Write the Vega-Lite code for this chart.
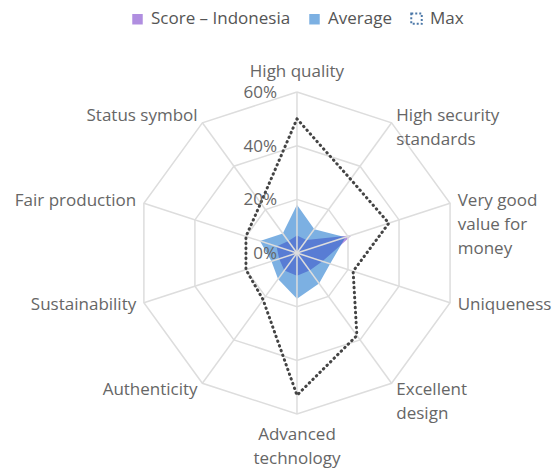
{
  "$schema": "https://vega.github.io/schema/vega-lite/v6.json",
  "width": 558,
  "height": 472,
  "autosize": {"type": "none"},
  "padding": 0,
  "background": "white",
  "config": {"view": {"stroke": null}, "font": "Open Sans"},
  "datasets": {
    "axes": [
      {"idx": 0, "label": "High quality"},
      {"idx": 1, "label": "High security\nstandards"},
      {"idx": 2, "label": "Very good\nvalue for\nmoney"},
      {"idx": 3, "label": "Uniqueness"},
      {"idx": 4, "label": "Excellent\ndesign"},
      {"idx": 5, "label": "Advanced\ntechnology"},
      {"idx": 6, "label": "Authenticity"},
      {"idx": 7, "label": "Sustainability"},
      {"idx": 8, "label": "Fair production"},
      {"idx": 9, "label": "Status symbol"}
    ],
    "grid": [
      {"idx": 0, "levels": [20, 40, 60]},
      {"idx": 1, "levels": [20, 40, 60]},
      {"idx": 2, "levels": [20, 40, 60]},
      {"idx": 3, "levels": [20, 40, 60]},
      {"idx": 4, "levels": [20, 40, 60]},
      {"idx": 5, "levels": [20, 40, 60]},
      {"idx": 6, "levels": [20, 40, 60]},
      {"idx": 7, "levels": [20, 40, 60]},
      {"idx": 8, "levels": [20, 40, 60]},
      {"idx": 9, "levels": [20, 40, 60]},
      {"idx": 10, "levels": [20, 40, 60]}
    ],
    "ticks": [{"level": 0}, {"level": 20}, {"level": 40}, {"level": 60}],
    "series": [
      {"series": "Score – Indonesia", "idx": 0, "value": 6.5},
      {"series": "Score – Indonesia", "idx": 1, "value": 6},
      {"series": "Score – Indonesia", "idx": 2, "value": 21.5},
      {"series": "Score – Indonesia", "idx": 3, "value": 10},
      {"series": "Score – Indonesia", "idx": 4, "value": 8},
      {"series": "Score – Indonesia", "idx": 5, "value": 8.5},
      {"series": "Score – Indonesia", "idx": 6, "value": 8},
      {"series": "Score – Indonesia", "idx": 7, "value": 7},
      {"series": "Score – Indonesia", "idx": 8, "value": 8},
      {"series": "Score – Indonesia", "idx": 9, "value": 5.5},
      {"series": "Score – Indonesia", "idx": 10, "value": 6.5},
      {"series": "Average", "idx": 0, "value": 18},
      {"series": "Average", "idx": 1, "value": 11},
      {"series": "Average", "idx": 2, "value": 19},
      {"series": "Average", "idx": 3, "value": 13},
      {"series": "Average", "idx": 4, "value": 14},
      {"series": "Average", "idx": 5, "value": 17},
      {"series": "Average", "idx": 6, "value": 12},
      {"series": "Average", "idx": 7, "value": 10},
      {"series": "Average", "idx": 8, "value": 14.5},
      {"series": "Average", "idx": 9, "value": 9},
      {"series": "Average", "idx": 10, "value": 18},
      {"series": "Max", "idx": 0, "value": 50},
      {"series": "Max", "idx": 1, "value": 34},
      {"series": "Max", "idx": 2, "value": 36},
      {"series": "Max", "idx": 3, "value": 22},
      {"series": "Max", "idx": 4, "value": 38},
      {"series": "Max", "idx": 5, "value": 53},
      {"series": "Max", "idx": 6, "value": 21.5},
      {"series": "Max", "idx": 7, "value": 20},
      {"series": "Max", "idx": 8, "value": 20},
      {"series": "Max", "idx": 9, "value": 23},
      {"series": "Max", "idx": 10, "value": 50}
    ]
  },
  "layer": [
    {
      "data": {"name": "series"},
      "transform": [
        {"filter": "datum.series === 'Score – Indonesia'"},
        {"calculate": "datum.idx * PI / 5", "as": "ang"},
        {"calculate": "datum.value * sin(datum.ang)", "as": "px"},
        {"calculate": "datum.value * cos(datum.ang)", "as": "py"}
      ],
      "mark": {"type": "line", "strokeWidth": 0},
      "encoding": {
        "x": {"field": "px", "type": "quantitative", "scale": {"domain": [-110.7, 97.3], "nice": false, "zero": false}, "axis": null},
        "y": {"field": "py", "type": "quantitative", "scale": {"domain": [-81.6, 94.3], "nice": false, "zero": false}, "axis": null},
        "order": {"field": "idx", "type": "quantitative"},
        "fill": {
          "field": "series",
          "type": "nominal",
          "scale": {"domain": ["Score – Indonesia", "Average", "Max"], "range": ["#b08ee0", "rgba(13,109,201,0.54)", "transparent"]},
          "legend": {
            "orient": "none",
            "legendX": 129,
            "legendY": 10,
            "direction": "horizontal",
            "title": null,
            "symbolType": "square",
            "symbolSize": 110,
            "symbolStrokeColor": {"expr": "datum.value === 'Max' ? '#555' : 'transparent'"},
            "symbolDash": {"expr": "datum.value === 'Max' ? [2, 2] : [1, 0]"},
            "symbolStrokeWidth": {"expr": "datum.value === 'Max' ? 2 : 0"},
            "labelFontSize": 17,
            "labelFont": "Open Sans",
            "labelColor": "#555",
            "labelOffset": 5,
            "columnPadding": 15,
            "padding": 0
          }
        }
      }
    },
    {
      "data": {"name": "series"},
      "transform": [
        {"filter": "datum.series === 'Average'"},
        {"calculate": "datum.idx * PI / 5", "as": "ang"},
        {"calculate": "datum.value * sin(datum.ang)", "as": "px"},
        {"calculate": "datum.value * cos(datum.ang)", "as": "py"}
      ],
      "mark": {"type": "line", "strokeWidth": 0},
      "encoding": {
        "x": {"field": "px", "type": "quantitative"},
        "y": {"field": "py", "type": "quantitative"},
        "order": {"field": "idx", "type": "quantitative"},
        "fill": {"field": "series", "type": "nominal"}
      }
    },
    {
      "data": {"name": "grid"},
      "transform": [
        {"flatten": ["levels"], "as": ["level"]},
        {"calculate": "datum.idx * PI / 5", "as": "ang"},
        {"calculate": "datum.level * sin(datum.ang)", "as": "px"},
        {"calculate": "datum.level * cos(datum.ang)", "as": "py"}
      ],
      "mark": {"type": "line", "stroke": "#dddddd", "strokeWidth": 1.5},
      "encoding": {
        "x": {"field": "px", "type": "quantitative"},
        "y": {"field": "py", "type": "quantitative"},
        "detail": {"field": "level", "type": "nominal"},
        "order": {"field": "idx", "type": "quantitative"}
      }
    },
    {
      "data": {"name": "axes"},
      "transform": [
        {"calculate": "datum.idx * PI / 5", "as": "ang"},
        {"calculate": "0", "as": "zero"},
        {"calculate": "60 * sin(datum.ang)", "as": "ex"},
        {"calculate": "60 * cos(datum.ang)", "as": "ey"}
      ],
      "mark": {"type": "rule", "stroke": "#dddddd", "strokeWidth": 1.5},
      "encoding": {
        "x": {"field": "zero", "type": "quantitative"},
        "y": {"field": "zero", "type": "quantitative"},
        "x2": {"field": "ex"},
        "y2": {"field": "ey"}
      }
    },
    {
      "data": {"name": "series"},
      "transform": [
        {"filter": "datum.series === 'Max'"},
        {"calculate": "datum.idx * PI / 5", "as": "ang"},
        {"calculate": "datum.value * sin(datum.ang)", "as": "px"},
        {"calculate": "datum.value * cos(datum.ang)", "as": "py"}
      ],
      "mark": {"type": "line", "stroke": "#444", "strokeWidth": 3, "strokeDash": [0.5, 4.5], "strokeCap": "round"},
      "encoding": {
        "x": {"field": "px", "type": "quantitative"},
        "y": {"field": "py", "type": "quantitative"},
        "order": {"field": "idx", "type": "quantitative"}
      }
    },
    {
      "data": {"name": "ticks"},
      "transform": [
        {"calculate": "datum.level + '%'", "as": "txt"},
        {"calculate": "0", "as": "zero"}
      ],
      "mark": {"type": "text", "align": "right", "baseline": "middle", "dx": -20, "dy": 1, "fontSize": 17, "font": "Open Sans", "fill": "#666"},
      "encoding": {
        "x": {"field": "zero", "type": "quantitative"},
        "y": {"field": "level", "type": "quantitative"},
        "text": {"field": "txt"}
      }
    },
    {
      "data": {"name": "axes"},
      "transform": [
        {"filter": "datum.idx >= 1 && datum.idx <= 4"},
        {"calculate": "datum.idx * PI / 5", "as": "ang"},
        {"calculate": "63 * sin(datum.ang)", "as": "lx"},
        {"calculate": "63 * cos(datum.ang)", "as": "ly"}
      ],
      "mark": {"type": "text", "align": "left", "baseline": "middle", "fontSize": 17, "font": "Open Sans", "fill": "#666", "lineBreak": "\n", "lineHeight": 24},
      "encoding": {
        "x": {"field": "lx", "type": "quantitative"},
        "y": {"field": "ly", "type": "quantitative"},
        "text": {"field": "label"}
      }
    },
    {
      "data": {"name": "axes"},
      "transform": [
        {"filter": "datum.idx >= 6"},
        {"calculate": "datum.idx * PI / 5", "as": "ang"},
        {"calculate": "63 * sin(datum.ang)", "as": "lx"},
        {"calculate": "63 * cos(datum.ang)", "as": "ly"}
      ],
      "mark": {"type": "text", "align": "right", "baseline": "middle", "fontSize": 17, "font": "Open Sans", "fill": "#666", "lineBreak": "\n", "lineHeight": 24},
      "encoding": {
        "x": {"field": "lx", "type": "quantitative"},
        "y": {"field": "ly", "type": "quantitative"},
        "text": {"field": "label"}
      }
    },
    {
      "data": {"name": "axes"},
      "transform": [
        {"filter": "datum.idx === 0"},
        {"calculate": "0", "as": "lx"},
        {"calculate": "63", "as": "ly"}
      ],
      "mark": {"type": "text", "align": "center", "baseline": "bottom", "dy": -3, "fontSize": 17, "font": "Open Sans", "fill": "#666"},
      "encoding": {
        "x": {"field": "lx", "type": "quantitative"},
        "y": {"field": "ly", "type": "quantitative"},
        "text": {"field": "label"}
      }
    },
    {
      "data": {"name": "axes"},
      "transform": [
        {"filter": "datum.idx === 5"},
        {"calculate": "0", "as": "lx"},
        {"calculate": "-63", "as": "ly"}
      ],
      "mark": {"type": "text", "align": "center", "baseline": "top", "dy": 5, "fontSize": 17, "font": "Open Sans", "fill": "#666", "lineBreak": "\n", "lineHeight": 24},
      "encoding": {
        "x": {"field": "lx", "type": "quantitative"},
        "y": {"field": "ly", "type": "quantitative"},
        "text": {"field": "label"}
      }
    }
  ]
}
